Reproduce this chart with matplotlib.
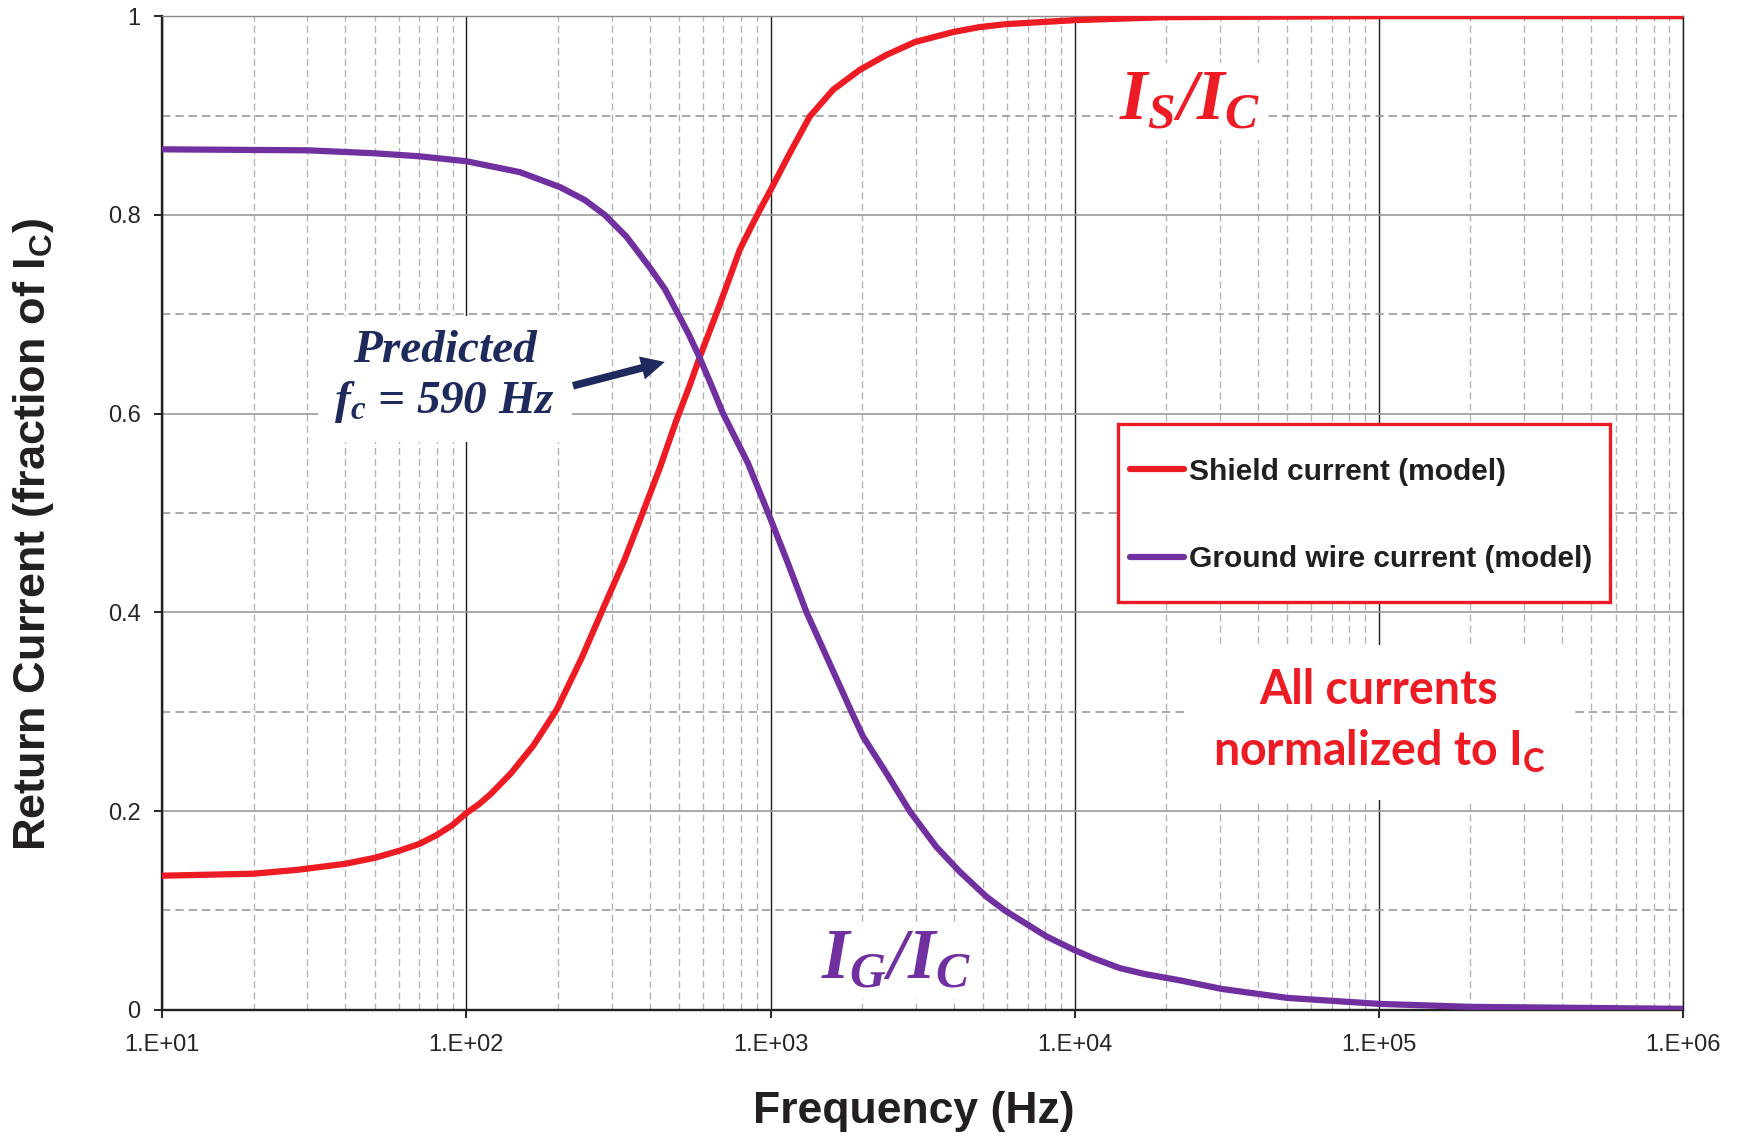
import numpy as np
import matplotlib
matplotlib.use('Agg')
import matplotlib.pyplot as plt
from matplotlib.ticker import LogLocator, MultipleLocator, NullFormatter
from matplotlib.patches import Rectangle

# Shield current / I_C
shield_freq = [10, 20, 28, 40, 50, 60, 70, 80, 90, 100, 110, 120, 140, 166, 198, 240,
               289, 330, 372, 432, 491, 540, 585, 664, 720, 792, 860, 922, 1000, 1156,
               1345, 1606, 1965, 2404, 2985, 3980, 4864, 5957, 10000, 20000, 100000,
               1000000]
shield_frac = [0.135, 0.137, 0.141, 0.147, 0.153, 0.160, 0.167, 0.176, 0.186, 0.198,
               0.207, 0.217, 0.238, 0.266, 0.302, 0.355, 0.412, 0.452, 0.493, 0.545,
               0.594, 0.627, 0.657, 0.701, 0.730, 0.765, 0.787, 0.805, 0.825, 0.862,
               0.899, 0.926, 0.946, 0.961, 0.974, 0.984, 0.989, 0.992, 0.996, 0.999,
               1.0, 1.0]

# Ground wire current / I_C
ground_freq = [10, 30, 50, 70, 100, 150, 203, 245, 285, 336, 401, 450, 497, 540, 585,
               640, 698, 770, 843, 982, 1142, 1313, 1546, 1845, 2014, 2405, 2866, 3507,
               4188, 5120, 5890, 8065, 10000, 11500, 14060, 17000, 21900, 30500, 50000,
               100000, 200000, 1000000]
ground_frac = [0.866, 0.865, 0.862, 0.859, 0.854, 0.843, 0.828, 0.815, 0.800, 0.778,
               0.747, 0.725, 0.700, 0.679, 0.656, 0.628, 0.600, 0.574, 0.550, 0.500,
               0.449, 0.400, 0.352, 0.300, 0.275, 0.238, 0.200, 0.164, 0.139, 0.114,
               0.100, 0.074, 0.060, 0.052, 0.042, 0.036, 0.030, 0.021, 0.012, 0.006,
               0.003, 0.001]

x_ticks = [1e1, 1e2, 1e3, 1e4, 1e5, 1e6]
x_tick_labels = ['1.E+01', '1.E+02', '1.E+03', '1.E+04', '1.E+05', '1.E+06']
y_ticks = [0, 0.2, 0.4, 0.6, 0.8, 1.0]
y_tick_labels = ['0', '0.2', '0.4', '0.6', '0.8', '1']

RED = '#ed1c24'
PURPLE = '#7030a0'
NAVY = '#1f2a5c'
DARK = '#231f20'

plt.rcParams['font.family'] = ['Liberation Sans', 'DejaVu Sans']

fig = plt.figure(figsize=(17.43, 11.39), dpi=100)
ax = fig.add_axes([0.0931, 0.1134, 0.8725, 0.8724])

line_s, = ax.plot(shield_freq, shield_frac, color=RED, lw=4.5, solid_capstyle='round',
                  solid_joinstyle='round', zorder=3, label='Shield current (model)')
line_g, = ax.plot(ground_freq, ground_frac, color=PURPLE, lw=4.5, solid_capstyle='round',
                  solid_joinstyle='round', zorder=3, label='Ground wire current (model)')

ax.set_xscale('log')
ax.set_xlim(10, 1e6)
ax.set_ylim(0, 1)
ax.set_xticks(x_ticks)
ax.set_xticklabels(x_tick_labels)
ax.xaxis.set_minor_locator(LogLocator(base=10, subs=np.arange(2, 10), numticks=50))
ax.xaxis.set_minor_formatter(NullFormatter())
ax.set_yticks(y_ticks)
ax.set_yticklabels(y_tick_labels)
ax.yaxis.set_minor_locator(MultipleLocator(0.1))

# grid
ax.set_axisbelow(True)
ax.grid(True, which='major', axis='x', color='#1a1a1a', lw=1.0)
ax.grid(True, which='minor', axis='x', color='#b3b3b3', lw=1.0, ls=(0, (5, 3)))
ax.grid(True, which='major', axis='y', color='#9a9a9a', lw=1.2)
ax.grid(True, which='minor', axis='y', color='#9a9a9a', lw=1.2, ls=(0, (5, 3)))

ax.tick_params(which='major', direction='out', length=5.5, width=1.4,
               labelsize=17, colors='#262626')
ax.tick_params(axis='x', pad=12)
ax.tick_params(axis='y', pad=10)
ax.tick_params(which='minor', length=0)

for s in ['left', 'bottom']:
    ax.spines[s].set_linewidth(1.7)
    ax.spines[s].set_color(DARK)
ax.spines['top'].set_color('#8a8a8a')
ax.spines['top'].set_linewidth(1.0)
ax.spines['right'].set_color('#1a1a1a')
ax.spines['right'].set_linewidth(1.0)

ax.set_xlabel('Frequency (Hz)', fontsize=32, fontweight='bold', color=DARK)
ax.xaxis.set_label_coords(0.494, -0.082)
ax.set_ylabel(r'Return Current (fraction of I$\mathregular{_C}$)', fontsize=32.5,
              fontweight='bold', color=DARK)
ax.yaxis.set_label_coords(-0.07, 0.479)

# curve labels
ax.text(23900, 0.914, r'$\mathregular{I_S/I_C}$', family='Liberation Serif',
        style='italic', weight='bold', fontsize=51, color=RED, ha='center',
        va='center', zorder=1.5, bbox=dict(fc='white', ec='none', pad=4))
ax.text(2576, 0.049, r'$\mathregular{I_G/I_C}$', family='Liberation Serif',
        style='italic', weight='bold', fontsize=51, color=PURPLE, ha='center',
        va='center', zorder=1.5, bbox=dict(fc='white', ec='none', pad=4))

# crossover annotation
ax.text(85, 0.636, 'Predicted\n$\\mathregular{f_c}$ = 590 Hz', family='Liberation Serif',
        style='italic', weight='bold', fontsize=34, color=NAVY, ha='center',
        va='center', linespacing=1.2, multialignment='center', zorder=1.5,
        bbox=dict(fc='white', ec='none', pad=12))
ax.annotate('', xy=(449, 0.652), xytext=(224, 0.628),
            arrowprops=dict(arrowstyle='simple,head_length=1.7,head_width=1.7,tail_width=0.55',
                            mutation_scale=10, fc=NAVY, ec='none', shrinkA=0, shrinkB=0),
            zorder=4)

ax.text(1.0e5, 0.29, 'All currents\nnormalized to I$\\mathregular{_C}$', family='Lato',
        weight='bold', fontsize=33.5, color=RED, ha='center', va='center',
        linespacing=1.4, multialignment='center', zorder=1.5,
        bbox=dict(fc='white', ec='none', pad=18))

# legend with a red box
rect = Rectangle((0.6287, 0.4107), 0.3233, 0.1789, transform=ax.transAxes,
                 fc='white', ec=RED, lw=2.4, zorder=4)
ax.add_patch(rect)
leg = ax.legend(handles=[line_s, line_g], loc='center', bbox_to_anchor=(0.7886, 0.4975),
                frameon=False, prop=dict(family='Liberation Sans', weight='bold', size=21.5),
                labelcolor=DARK, handlelength=1.78, handletextpad=0.2,
                labelspacing=2.0, borderpad=0)
leg.set_zorder(5)

fig.savefig('out.png', dpi=100)
